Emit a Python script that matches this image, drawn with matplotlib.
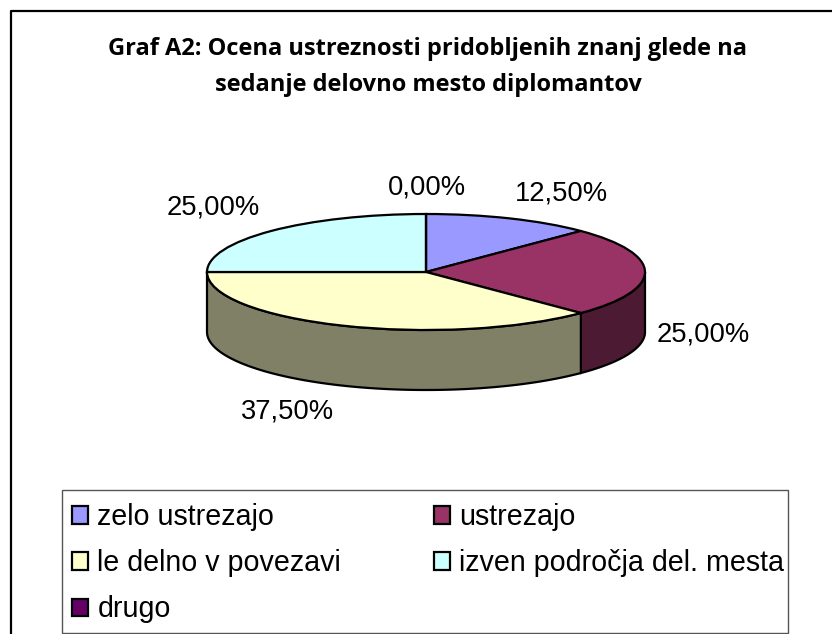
import numpy as np
import matplotlib
matplotlib.use("Agg")
import matplotlib.pyplot as plt
from matplotlib.lines import Line2D
from matplotlib.patches import Patch, Rectangle

W, H = 832, 634

categories = ["zelo ustrezajo", "ustrezajo", "le delno v povezavi",
              "izven področja del. mesta", "drugo"]
values = [12.5, 25.0, 37.5, 25.0, 0.0]
colors = ["#9999FF", "#993366", "#FFFFCC", "#CCFFFF", "#660066"]
wall_colors = ["#4D4D80", "#4D1A33", "#808066", "#668080", "#330033"]
title_lines = ["Graf A2: Ocena ustreznosti pridobljenih znanj glede na",
               "sedanje delovno mesto diplomantov"]

# polozaj oznak v pikslih (sredina besedila)
label_pos = [(561, 194), (703, 334), (288, 411), (213, 208), (427, 188)]

# geometrija pite v pikslih
CX, CY, RX, RY, DEPTH = 426, 272, 219, 58, 60

plt.rcParams["font.family"] = ["Liberation Sans", "DejaVu Sans"]


def px(x, y):
    return x / W, 1 - y / H


fig = plt.figure(figsize=(W / 100, H / 100), dpi=100, facecolor="white")
ax = fig.add_axes([0, 0, 1, 1])

wedges, _ = ax.pie(values, colors=colors, startangle=90, counterclock=False,
                   radius=1, wedgeprops=dict(edgecolor="black", linewidth=1.6, zorder=3))
ax.set_aspect("auto")
ax.set_xlim(-CX / RX, (W - CX) / RX)
ax.set_ylim(-(H - CY) / RY, CY / RY)

# stranska stena pite: samo sprednji del (spodnja polovica elipse)
depth = DEPTH / RY
edges = np.cumsum([0] + values) / sum(values) * 360
for start, end, wall in zip(edges[:-1], edges[1:], wall_colors):
    a0, a1 = max(start, 90), min(end, 270)
    if a1 <= a0:
        continue
    t = np.radians(np.linspace(a0, a1, 80))
    xs, ys = np.sin(t), np.cos(t)
    ax.fill(np.r_[xs, xs[::-1]], np.r_[ys, ys[::-1] - depth],
            facecolor=wall, edgecolor="black", linewidth=1.6, zorder=2)

# oznake vrednosti
for v, (x, y) in zip(values, label_pos):
    fig.text(*px(x, y), f"{v:.2f}%".replace(".", ","), fontsize=19.7,
             ha="center", va="center")

# naslov
for line, y in zip(title_lines, (49, 85)):
    fig.text(*px(428, y), line, fontsize=17, fontweight="bold", family="Open Sans",
             ha="center", va="center")

# zunanji okvir (desno in spodaj odrezan)
fig.add_artist(Line2D([11 / W, 11 / W, 1], [0, 1 - 11 / H, 1 - 11 / H],
                      color="black", linewidth=1.6))

# okvir legende posebej, ker ima legenda zgoraj in spodaj drugacen odmik kot levo
fig.add_artist(Rectangle(px(62, 633), (788 - 62) / W, (633 - 490) / H, fill=False,
                         edgecolor="#555555", linewidth=1.0,
                         transform=fig.transFigure))

# legenda: matplotlib polni po stolpcih, zato vrstni red 0,2,4,1,3
order = [0, 2, 4, 1, 3]
handles = [Patch(facecolor=colors[i], edgecolor="black", linewidth=1.6) for i in order]
leg = ax.legend(handles, [categories[i] for i in order], ncol=2, loc="upper left",
                bbox_to_anchor=px(62, 493), bbox_transform=fig.transFigure,
                borderaxespad=0, fontsize=20.6, frameon=False, borderpad=0.36,
                labelspacing=0.63, handlelength=0.56, handleheight=0.56,
                handletextpad=0.32, columnspacing=3.25)

fig.savefig("out.png", dpi=100, facecolor="white")
